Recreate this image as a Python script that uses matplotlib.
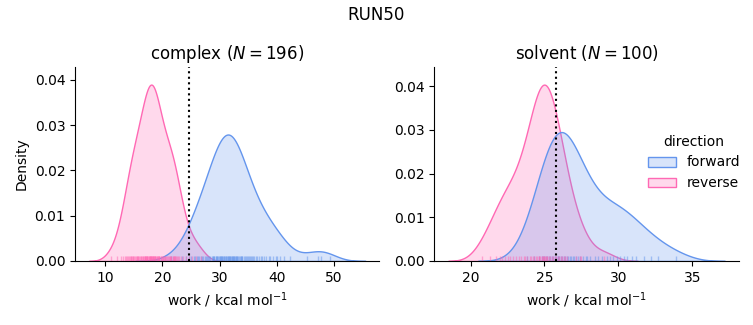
import numpy as np
import pandas as pd
import seaborn as sns
import matplotlib
matplotlib.use("Agg")
import matplotlib.pyplot as plt

# work values (kcal/mol)
complex_forward = [21.5, 23.4, 24.2, 24.7, 25.1, 25.5, 25.8,
                   26.0, 26.3, 26.5, 26.8, 27.0, 27.2, 27.4, 27.6, 27.8,
                   28.0, 28.2, 28.4, 28.6, 28.8, 28.9,
                   29.0, 29.1, 29.3, 29.4, 29.5, 29.6, 29.8, 29.9,
                   30.0, 30.1, 30.2, 30.3, 30.4, 30.5, 30.6, 30.7, 30.8,
                   31.0, 31.1, 31.2, 31.3, 31.4, 31.5, 31.6, 31.7, 31.8, 31.9,
                   32.0, 32.1, 32.2, 32.3, 32.4, 32.5, 32.6, 32.7, 32.8, 32.9,
                   33.0, 33.1, 33.3, 33.4, 33.5, 33.7, 33.8, 33.9,
                   34.0, 34.2, 34.4, 34.6, 34.8, 34.9,
                   35.1, 35.3, 35.5, 35.7, 35.9,
                   36.1, 36.4, 36.6, 36.9, 37.2, 37.5, 37.8,
                   38.2, 38.6, 38.9, 39.3, 39.8, 40.0, 40.5, 41.3, 42.4,
                   45.3, 47.2, 47.8, 49.3]
complex_reverse = [11.0, 12.1, 12.8, 13.1, 13.4,
                   13.6, 13.8, 14.0, 14.2, 14.4,
                   14.5, 14.6, 14.7, 14.8, 14.9, 15.0, 15.2, 15.4,
                   15.5, 15.6, 15.7, 15.8, 15.9, 16.1, 16.2, 16.3, 16.4,
                   16.6, 16.7, 16.8, 16.9, 17.0, 17.0, 17.1, 17.2, 17.3, 17.4, 17.4,
                   17.5, 17.6, 17.7, 17.8, 17.9, 17.9, 18.0, 18.1, 18.1, 18.2, 18.25, 18.3, 18.4, 18.4,
                   18.5, 18.6, 18.65, 18.7, 18.8, 18.9, 19.0, 19.1, 19.2, 19.3, 19.4, 19.4,
                   19.5, 19.7, 19.8, 20.0, 20.1, 20.2, 20.3, 20.4,
                   20.5, 20.7, 20.8, 21.0, 21.1, 21.3, 21.4,
                   21.5, 21.6, 21.8, 21.9, 22.0, 22.1, 22.2, 22.3, 22.4,
                   22.6, 22.8, 23.0, 23.3, 23.6, 24.1, 24.6, 25.2, 25.9, 26.8]
solvent_forward = [23.8, 24.3, 24.6, 24.8, 24.9, 25.0, 25.1, 25.2, 25.3, 25.4,
                   25.5, 25.6, 25.7, 25.8, 25.9, 25.9, 26.0, 26.1, 26.2, 26.3,
                   26.4, 26.5, 26.6, 26.7, 26.8, 26.9, 27.0, 27.1, 27.3, 27.4,
                   27.6, 27.8, 27.9, 28.1, 28.4, 28.6, 28.9, 29.2, 29.4, 29.6,
                   29.9, 30.1, 30.4, 30.6, 30.9, 31.2, 31.7, 32.2, 32.7, 33.9]
solvent_reverse = [20.8, 21.3, 21.7, 22.0, 22.1, 22.3, 22.5, 22.7, 22.9, 23.1,
                   23.3, 23.4, 23.6, 23.7, 23.8, 24.0, 24.1, 24.2, 24.3, 24.4,
                   24.5, 24.6, 24.6, 24.7, 24.8, 24.8, 24.9, 25.0, 25.0, 25.05,
                   25.1, 25.2, 25.2, 25.3, 25.4, 25.5, 25.6, 25.7, 25.8, 25.9,
                   26.0, 26.1, 26.2, 26.3, 26.4, 26.5, 27.1, 27.4, 27.5, 29.0]

# free energy estimates (dotted lines)
dg_complex = 24.7
dg_solvent = 25.8

phases = ["complex", "solvent"]
colors = {"forward": "cornflowerblue", "reverse": "hotpink"}

rows = []
for phase, fwd, rev in [("complex", complex_forward, complex_reverse),
                        ("solvent", solvent_forward, solvent_reverse)]:
    for w in fwd:
        rows.append((phase, "forward", w))
    for w in rev:
        rows.append((phase, "reverse", w))
df = pd.DataFrame(rows, columns=["phase", "direction", "work"])

g = sns.displot(data=df, x="work", col="phase", hue="direction", kind="kde",
                fill=True, rug=True, palette=colors, col_order=phases,
                rug_kws=dict(alpha=0.5),
                facet_kws=dict(sharex=False, sharey=False))

for ax, phase, dg in zip(g.axes.flat, phases, [dg_complex, dg_solvent]):
    n = (df.phase == phase).sum()
    ax.axvline(dg, color="k", ls=":", lw=1.5)
    ax.set_title(f"{phase} ($N={n}$)")
    ax.set_xlabel("work / kcal mol$^{-1}$")
g.axes.flat[1].set_xticks([20, 25, 30, 35])

fig = g.figure
fig.set_size_inches(7.53, 3.25)
fig.subplots_adjust(left=0.0996, right=0.981, top=0.794, bottom=0.197, wspace=0.181)
fig.suptitle("RUN50")
fig.savefig("out.png", dpi=100)
